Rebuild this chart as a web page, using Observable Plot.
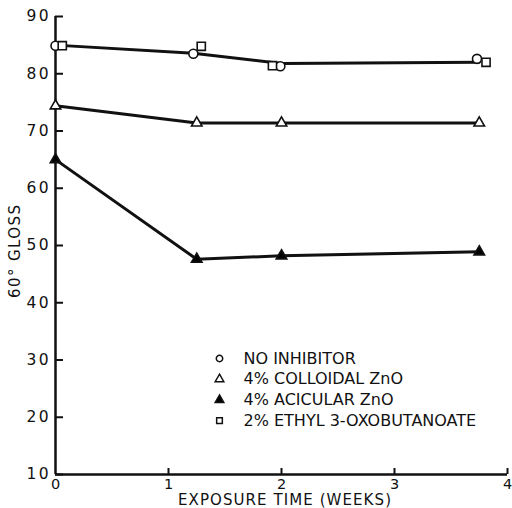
<!DOCTYPE html>
<html>
<head>
<meta charset="utf-8">
<script src="https://cdn.jsdelivr.net/npm/d3@7"></script>
<script src="https://cdn.jsdelivr.net/npm/@observablehq/plot@0.6"></script>
<style>
  html, body { margin: 0; padding: 0; background: #fff; }
  #chart svg { display: block; }
</style>
</head>
<body>
<div id="chart"></div>
<script>
// 60° gloss retention over exposure time for four coating formulations
const noInhibitorWeeks = [0, 1.22, 1.99, 3.73];
const noInhibitorGloss = [84.9, 83.5, 81.3, 82.6];

const ethylWeeks = [0.06, 1.29, 1.92, 3.81];
const ethylGloss = [84.9, 84.8, 81.4, 82.0];

const colloidalWeeks = [0, 1.25, 2, 3.75];
const colloidalGloss = [74.4, 71.4, 71.4, 71.4];

const acicularWeeks = [0, 1.25, 2, 3.75];
const acicularGloss = [65.0, 47.6, 48.2, 48.9];

// hand-faired trend line shared by the no-inhibitor and ethyl 3-oxobutanoate points
const topTrendWeeks = [0, 1.22, 2, 3.75];
const topTrendGloss = [85.0, 83.6, 81.8, 82.0];

const legendLabels = ["NO INHIBITOR", "4% COLLOIDAL ZnO", "4% ACICULAR ZnO", "2% ETHYL 3-OXOBUTANOATE"];
const legendSymbols = ["circle", "triangle", "triangle", "square"];
const legendFills = ["white", "white", "black", "white"];

const xTicks = [0, 1, 2, 3, 4];
const yTicks = [10, 20, 30, 40, 50, 60, 70, 80, 90];

const xTitle = "EXPOSURE TIME (WEEKS)";
const yTitle = "60° GLOSS";

const ink = "#111";
const pts = (xs, ys) => xs.map((x, i) => ({x, y: ys[i]}));

const series = [
  {data: pts(noInhibitorWeeks, noInhibitorGloss), symbol: "circle", fill: "white", r: 4.5},
  {data: pts(ethylWeeks, ethylGloss), symbol: "square", fill: "white", r: 4.6},
  {data: pts(colloidalWeeks, colloidalGloss), symbol: "triangle", fill: "white", r: 3.9},
  {data: pts(acicularWeeks, acicularGloss), symbol: "triangle", fill: "black", r: 3.9}
];

const legendMarks = legendLabels.flatMap((label, i) => [
  Plot.dot([label], {
    frameAnchor: "top-left", dx: 164, dy: 342 + i * 20.7,
    symbol: () => legendSymbols[i], r: 3.2, fill: legendFills[i], stroke: ink, strokeWidth: 1.5
  }),
  Plot.text([label], {
    frameAnchor: "top-left", dx: 188, dy: 342 + i * 20.7,
    text: d => d, textAnchor: "start", lineAnchor: "middle", fontSize: 16, fill: ink
  })
]);

const chart = Plot.plot({
  width: 512,
  height: 508,
  marginLeft: 55,
  marginRight: 5,
  marginTop: 16,
  marginBottom: 34,
  style: {fontFamily: "DejaVu Sans, sans-serif", color: ink, background: "white"},
  x: {domain: [0, 4]},
  y: {domain: [10, 90]},
  marks: [
    // axis lines
    Plot.ruleX([0], {stroke: ink, strokeWidth: 2.5}),
    Plot.ruleY([10], {stroke: ink, strokeWidth: 2.5}),
    // inward tick marks
    Plot.axisY(yTicks, {anchor: "left", tickSize: 8, dx: 8, tickFormat: () => "", stroke: ink, strokeWidth: 2, label: null}),
    Plot.axisX(xTicks.slice(1), {anchor: "bottom", tickSize: 6, dy: -6, tickFormat: () => "", stroke: ink, strokeWidth: 2, label: null}),
    // tick labels
    Plot.axisY(yTicks, {anchor: "left", tickSize: 0, tickPadding: 7, fontSize: 15.5, fill: ink, label: null}),
    Plot.axisX(xTicks, {anchor: "bottom", tickSize: 0, tickPadding: 4, fontSize: 14.5, fill: ink, label: null}),
    // axis titles
    Plot.text([yTitle], {
      frameAnchor: "left", dx: -40, dy: 6, rotate: -90, textAnchor: "middle", lineAnchor: "middle",
      fontSize: 15, fill: ink, text: d => d
    }),
    Plot.text([xTitle], {
      frameAnchor: "bottom", dx: 3, dy: 26, textAnchor: "middle", lineAnchor: "middle",
      fontSize: 15, fill: ink, text: d => d
    }),
    // curves
    Plot.line(pts(topTrendWeeks, topTrendGloss), {x: "x", y: "y", stroke: ink, strokeWidth: 3}),
    Plot.line(series[2].data, {x: "x", y: "y", stroke: ink, strokeWidth: 3}),
    Plot.line(series[3].data, {x: "x", y: "y", stroke: ink, strokeWidth: 3}),
    // data points
    ...series.map(s => Plot.dot(s.data, {
      x: "x", y: "y", symbol: () => s.symbol, r: s.r, fill: s.fill, stroke: ink, strokeWidth: 1.6
    })),
    ...legendMarks
  ]
});

// stretch the drafting-style lettering to its wide, evenly spaced set width
const stretch = (content, length) =>
  d3.select(chart).selectAll("text")
    .filter(function() { return this.textContent === content; })
    .attr("textLength", length)
    .attr("lengthAdjust", "spacing");
stretch(xTitle, 213);
stretch(yTitle, 93);
yTicks.forEach(t => stretch(String(t), 22));

document.getElementById("chart").appendChild(chart);
</script>
</body>
</html>
